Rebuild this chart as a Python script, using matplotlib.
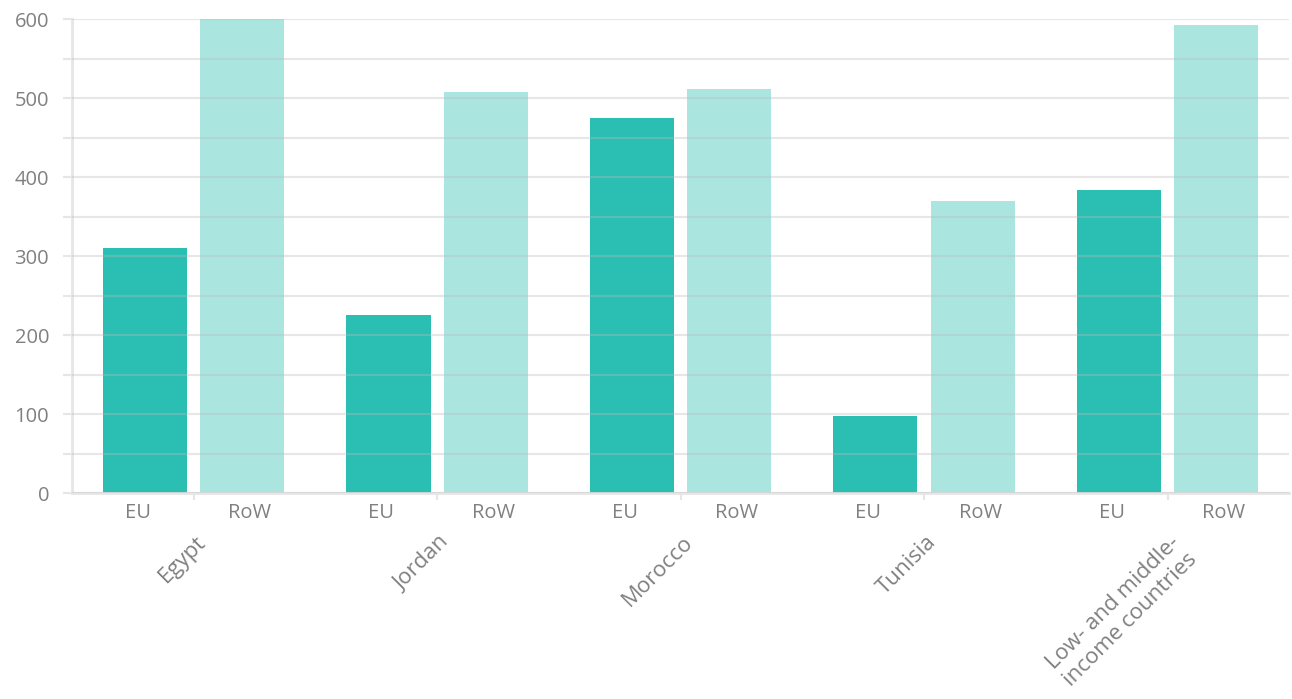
import matplotlib.pyplot as plt
import numpy as np

groups = ["Egypt", "Jordan", "Morocco", "Tunisia", "Low- and middle-\nincome countries"]
eu = [310, 225, 475, 97, 384]
row = [600, 507, 511, 370, 592]
sub_labels = ["EU", "RoW"]

plt.rcParams['font.family'] = ['Open Sans', 'DejaVu Sans']
grey = '#808080'
light = '#e6e6e6'

fig = plt.figure(figsize=(12.92, 6.99), dpi=100)
ax = fig.add_axes([0.0557, 0.2947, 0.9423, 0.6781])

x = np.arange(len(groups))
w = 0.345
off = 0.2
ax.bar(x - off, eu, w, color='#2bbfb3', zorder=1)
ax.bar(x + off, row, w, color='#2bbfb3', alpha=0.4, zorder=1)

ax.set_xlim(-0.5, len(groups) - 0.5)
ax.set_ylim(0, 600)
ax.set_yticks(np.arange(0, 601, 100))
ax.set_yticks(np.arange(0, 601, 50), minor=True)
ax.grid(axis='y', which='both', color='#bbbbbb', alpha=0.35, linewidth=1.5, zorder=2)
ax.set_axisbelow(False)

ax.tick_params(axis='y', which='both', length=6.5, color=light, width=1.5,
               labelsize=14.5, labelcolor=grey, pad=10)

# sub labels under bars, small tick at group centre
lab_off = 0.23
pos = np.concatenate([x - lab_off, x + lab_off])
ax.set_xticks(pos)
ax.set_xticklabels([sub_labels[0]] * len(x) + [sub_labels[1]] * len(x))
ax.set_xticks(x, minor=True)
ax.tick_params(axis='x', which='major', length=0, labelsize=14.5, labelcolor=grey, pad=7)
ax.tick_params(axis='x', which='minor', length=5, color=light, width=1.5)

for s in ['top', 'right']:
    ax.spines[s].set_visible(False)
for s in ['left', 'bottom']:
    ax.spines[s].set_color(light)
    ax.spines[s].set_linewidth(2)

for xi, g in zip(x, groups):
    ax.annotate(g, xy=(xi, 0), xycoords=('data', 'axes fraction'),
                xytext=(1, -28), textcoords='offset points',
                rotation=45, rotation_mode='anchor', ha='right', va='top',
                multialignment='center', fontsize=16, color=grey,
                annotation_clip=False)

fig.savefig('out.png', dpi=100)
